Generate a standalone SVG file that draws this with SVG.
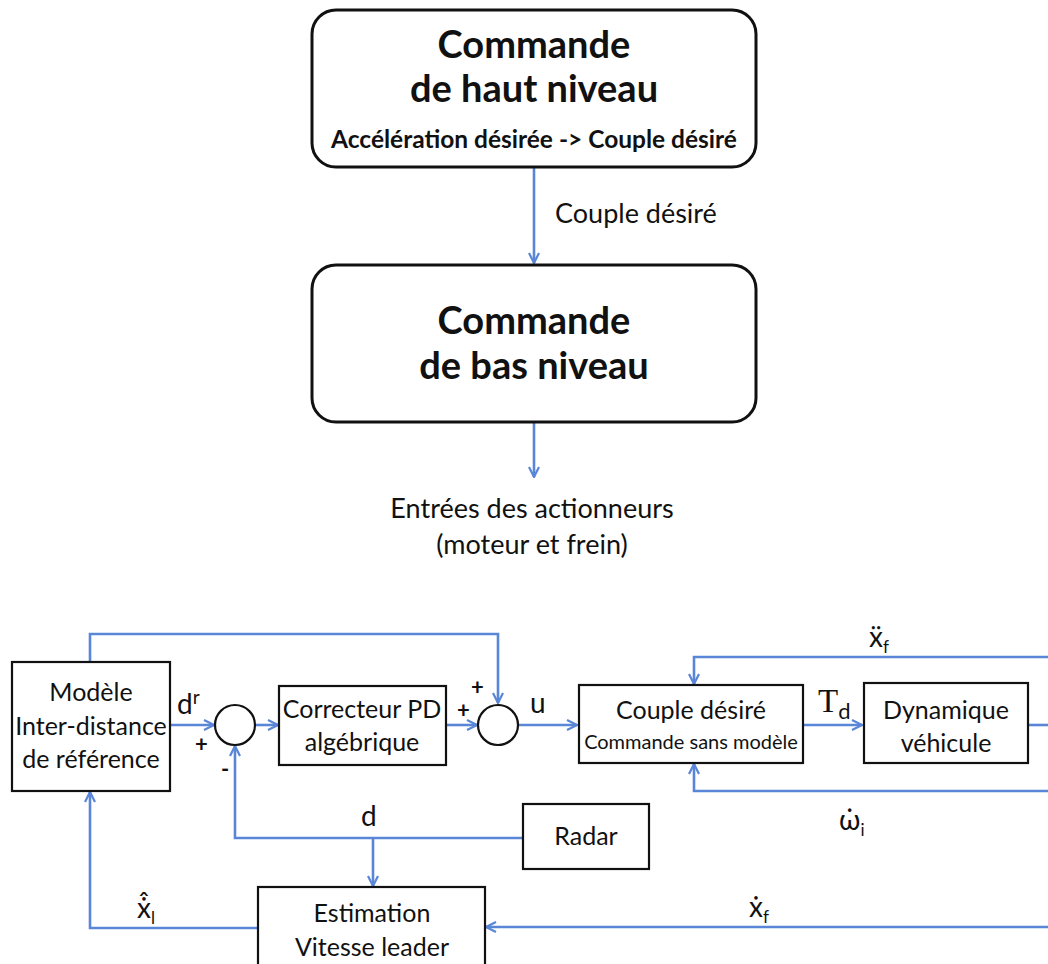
<svg xmlns="http://www.w3.org/2000/svg" width="1048" height="964" viewBox="0 0 1048 964">
<defs>
<marker id="ah" viewBox="0 0 12 12" refX="11" refY="6" markerWidth="12" markerHeight="12" markerUnits="userSpaceOnUse" orient="auto">
<path d="M1,1 L11,6 L1,11" fill="none" stroke="#5a86d8" stroke-width="2.2" stroke-linejoin="miter"/>
</marker>
<style>
.t{font-family:Lato,"Open Sans","Liberation Sans",sans-serif;fill:#111;}
.big{font-size:38px;font-weight:bold;}
.bx{fill:#fff;stroke:#111;stroke-width:2.2;}
.rb{fill:#fff;stroke:#111;stroke-width:3;}
.c{fill:none;stroke:#5a86d8;stroke-width:2.6;}
.ca{fill:none;stroke:#5a86d8;stroke-width:2.6;marker-end:url(#ah);}
.n{font-size:25px;}
.m{font-size:27px;}
.l{font-size:28px;}
</style>
</defs>
<rect width="1048" height="964" fill="#fff"/>

<g id="connectors">
<path class="ca" d="M534,168 V263"/>
<path class="ca" d="M534,422 V477"/>
<path class="ca" d="M90,662 V634 H498 V703"/>
<path class="ca" d="M170,725 H214"/>
<path class="ca" d="M256,725 H278"/>
<path class="ca" d="M446,725 H477"/>
<path class="ca" d="M519,725 H577"/>
<path class="ca" d="M803,725 H862"/>
<path class="c" d="M1028,725 H1048"/>
<path class="ca" d="M1048,657 H694 V684"/>
<path class="ca" d="M1048,791 H694 V764"/>
<path class="ca" d="M523,838 H235 V746"/>
<path class="ca" d="M373,838 V886"/>
<path class="ca" d="M1048,927 H486"/>
<path class="ca" d="M258,928 H90 V792"/>
</g>

<g id="haut">
<rect class="rb" x="312" y="10" width="444" height="157" rx="24"/>
<text class="t big" x="534" y="58" text-anchor="middle">Commande</text>
<text class="t big" x="534" y="102" text-anchor="middle">de haut niveau</text>
<text class="t" x="534" y="148" text-anchor="middle" font-size="24.5" font-weight="bold">Accélération désirée -&gt; Couple désiré</text>
</g>
<text class="t m" x="555" y="223">Couple désiré</text>

<g id="bas">
<rect class="rb" x="312" y="265" width="444" height="157" rx="24"/>
<text class="t big" x="534" y="334" text-anchor="middle">Commande</text>
<text class="t big" x="534" y="379" text-anchor="middle">de bas niveau</text>
</g>

<g id="sortie">
<text class="t m" x="532" y="518" text-anchor="middle">Entrées des actionneurs</text>
<text class="t m" x="532" y="554" text-anchor="middle">(moteur et frein)</text>
</g>

<g id="modele">
<rect class="bx" x="12" y="662" width="158" height="129"/>
<text class="t n" x="91" y="701" text-anchor="middle">Modèle</text>
<text class="t n" x="91" y="735" text-anchor="middle">Inter-distance</text>
<text class="t n" x="91" y="768" text-anchor="middle">de référence</text>
</g>

<g id="sum1">
<circle cx="235" cy="725" r="20" fill="#fff" stroke="#111" stroke-width="2.2"/>
</g>
<text class="t l" x="177" y="714">d<tspan font-size="19" dy="-10">r</tspan></text>
<text class="t" x="195" y="752" font-size="22" font-weight="bold">+</text>
<text class="t" x="221" y="777" font-size="22" font-weight="bold">-</text>

<g id="correcteur">
<rect class="bx" x="279" y="686" width="167" height="79"/>
<text class="t n" x="362" y="718" text-anchor="middle">Correcteur PD</text>
<text class="t n" x="362" y="751" text-anchor="middle">algébrique</text>
</g>

<g id="sum2">
<circle cx="498" cy="725" r="20" fill="#fff" stroke="#111" stroke-width="2.2"/>
</g>
<text class="t" x="457" y="718" font-size="22" font-weight="bold">+</text>
<text class="t" x="471" y="695" font-size="22" font-weight="bold">+</text>
<text class="t l" x="530" y="713">u</text>

<g id="couple">
<rect class="bx" x="579" y="685" width="224" height="78"/>
<text class="t n" x="691" y="719" text-anchor="middle">Couple désiré</text>
<text class="t" x="691" y="749" text-anchor="middle" font-size="20">Commande sans modèle</text>
</g>
<text x="818" y="712" font-family="'Liberation Serif',serif" font-size="33" fill="#111">T<tspan font-family="Lato,'Liberation Sans',sans-serif" font-size="22" dy="7">d</tspan></text>

<g id="dynamique">
<rect class="bx" x="864" y="683" width="164" height="80"/>
<text class="t n" x="946" y="719" text-anchor="middle">Dynamique</text>
<text class="t n" x="946" y="752" text-anchor="middle">véhicule</text>
</g>

<text class="t l" x="869" y="647">ẍ<tspan font-size="17" dy="6">f</tspan></text>
<text class="t l" x="839" y="830">ω̇<tspan font-size="17" dy="6">i</tspan></text>

<g id="radar">
<rect class="bx" x="523" y="804" width="126" height="65"/>
<text class="t n" x="586" y="845" text-anchor="middle">Radar</text>
</g>
<text class="t l" x="361" y="826">d</text>

<g id="estimation">
<rect class="bx" x="258" y="887" width="227" height="90"/>
<text class="t n" x="372" y="922" text-anchor="middle">Estimation</text>
<text class="t n" x="372" y="956" text-anchor="middle">Vitesse leader</text>
</g>
<text class="t l" x="749" y="917">ẋ<tspan font-size="17" dy="6">f</tspan></text>
<text class="t l" x="137" y="918">ẋ̂<tspan font-size="17" dy="6">l</tspan></text>
</svg>
